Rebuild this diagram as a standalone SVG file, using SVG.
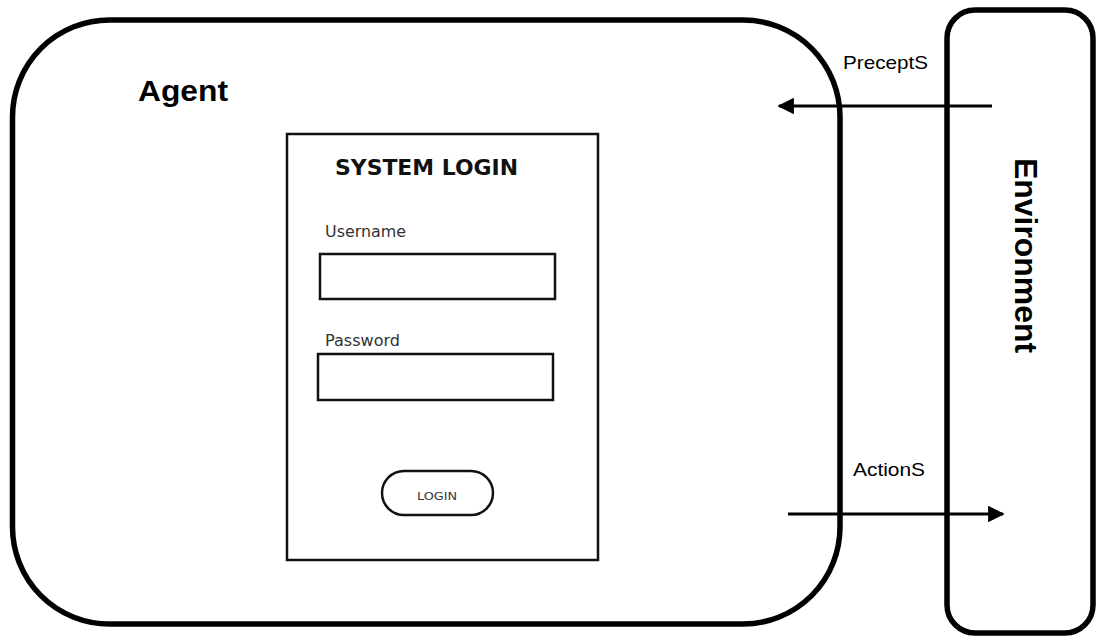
<svg xmlns="http://www.w3.org/2000/svg" width="1099" height="637" viewBox="0 0 1099 637">
  <style>
    .frame { fill: none; stroke: #000; stroke-width: 5.5; }
    .panel { fill: none; stroke: #111; stroke-width: 2.5; }
    .conn { stroke: #000; stroke-width: 3; fill: none; }
    .label { font-family: "Liberation Sans", Arial, sans-serif; fill: #000; }
    .form { font-family: "DejaVu Sans", Verdana, sans-serif; fill: #333; }
    .form-title { font-family: "DejaVu Sans", Verdana, sans-serif; font-weight: bold; fill: #111; }
  </style>
  <defs>
    <marker id="head" viewBox="0 0 10 10" refX="9" refY="5" markerWidth="5.5" markerHeight="5.5" markerUnits="strokeWidth" orient="auto">
      <path d="M0,0 L10,5 L0,10 Z" fill="#000"/>
    </marker>
  </defs>
  <rect width="1099" height="637" fill="#fff"/>

  <!-- Agent container -->
  <g id="agent">
    <rect class="frame" x="12.5" y="20" width="827.5" height="604" rx="97" ry="97"/>
    <text class="label" x="138" y="101" font-size="30" font-weight="bold" textLength="90" lengthAdjust="spacingAndGlyphs">Agent</text>
  </g>

  <!-- Login form inside the agent -->
  <g id="login-form">
    <rect class="panel" x="287" y="134" width="311" height="426"/>
    <text class="form-title" x="335" y="175" font-size="21" textLength="183" lengthAdjust="spacingAndGlyphs">SYSTEM LOGIN</text>
    <text class="form" x="325" y="237" font-size="15" textLength="81" lengthAdjust="spacingAndGlyphs">Username</text>
    <rect class="panel" x="320" y="254" width="235" height="45"/>
    <text class="form" x="325" y="346" font-size="15" textLength="75" lengthAdjust="spacingAndGlyphs">Password</text>
    <rect class="panel" x="318" y="354" width="235" height="46"/>
    <rect class="panel" x="382" y="471" width="111" height="44" rx="22" ry="22"/>
    <text class="form" x="437" y="500" font-size="10" text-anchor="middle" textLength="40" lengthAdjust="spacingAndGlyphs">LOGIN</text>
  </g>

  <!-- Environment container -->
  <g id="environment">
    <rect class="frame" x="947" y="10" width="146" height="623" rx="28" ry="28"/>
    <text class="label" transform="translate(1015,158) rotate(90)" x="0" y="0" font-size="32" font-weight="bold" textLength="195" lengthAdjust="spacingAndGlyphs">Environment</text>
  </g>

  <!-- Percepts and actions flowing between environment and agent -->
  <g id="connectors">
    <line class="conn" x1="992" y1="106" x2="779" y2="106" marker-end="url(#head)"/>
    <line class="conn" x1="788" y1="514" x2="1003" y2="514" marker-end="url(#head)"/>
    <text class="label" x="843" y="69" font-size="19" textLength="85" lengthAdjust="spacingAndGlyphs">PreceptS</text>
    <text class="label" x="853" y="476" font-size="19" textLength="72" lengthAdjust="spacingAndGlyphs">ActionS</text>
  </g>
</svg>
